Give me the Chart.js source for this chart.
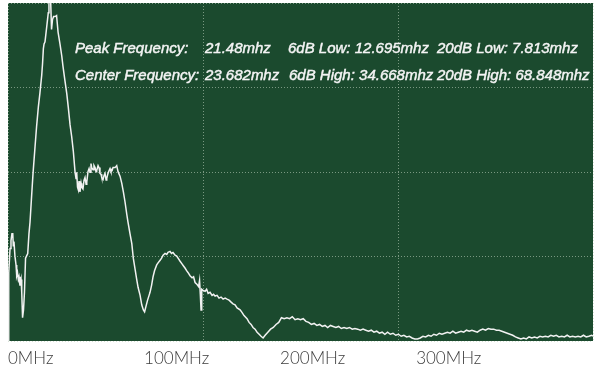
<!DOCTYPE html>
<html>
<head>
<meta charset="utf-8">
<script src="https://cdn.jsdelivr.net/npm/chart.js@4"></script>
<style>
    body { margin: 0; background: #ffffff; }
    #spectrum { display: block; }
</style>
</head>
<body>
<canvas id="spectrum" width="600" height="368"></canvas>
<script>
// Spectrum trace (frequency in MHz, level in % of full scale)
const lowBandFreq = [0, 0.4, 0.7, 1.5, 2.2, 2.9, 3.5, 3.9, 4.4, 5.1, 5.9, 6.4, 7.0, 7.6, 8.1, 8.8, 9.6, 10.1, 10.7, 11.4,
    12.1, 12.9, 13.6, 14.5, 15.4, 16.2, 17.4, 18.4, 19.9, 21.0, 22.3, 23.5, 24.8, 25.4, 26.0, 26.5, 27.2, 28.5, 29.6, 30.1,
    30.9, 31.4, 32.0, 32.7, 33.5, 34.6, 35.7, 36.8, 38.2, 39.5, 40.4, 41.9, 43.2, 44.3, 45.6, 46.8, 48.0, 49.3, 50.0, 50.5,
    51.1, 51.7, 52.2, 52.9, 53.7, 54.2, 55.1, 55.9, 56.6, 57.4, 57.9, 58.8, 59.6, 60.3, 61.0, 61.5, 62.5, 63.2, 64.0, 64.7,
    65.2, 66.2, 66.9, 67.6, 68.4, 68.9, 69.9, 70.6, 71.3, 72.1, 72.6, 73.5, 74.3, 75.0, 75.7, 76.5, 77.2, 78.7, 79.9, 80.9];
const lowBandLevel = [0, 8.6, 20.2, 27.4, 29.7, 31.7, 31.7, 28.2, 29.4, 25.1, 22.5, 19.3, 20.2, 18.2, 19.0, 16.4, 18.2, 14.4, 6.9, 9.2,
    14.4, 24.5, 25.1, 25.9, 31.7, 35.2, 43.2, 49.6, 57.6, 63.4, 69.2, 73.5, 78.7, 82.1, 86.5, 87.9, 88.5, 93.1, 97.1, 100.0,
    102, 100.0, 92.2, 95.1, 96.0, 96.0, 96.3, 91.4, 87.9, 84.4, 81.3, 76.9, 73.2, 69.2, 64.0, 60.5, 56.2, 49.9, 48.1, 49.9,
    45.5, 44.7, 47.3, 44.1, 46.7, 45.5, 45.0, 47.6, 48.4, 46.4, 47.0, 50.1, 51.0, 49.9, 52.5, 51.3, 50.7, 51.9, 51.3, 50.1,
    50.4, 51.9, 51.3, 49.6, 49.3, 48.4, 47.8, 49.0, 49.6, 47.6, 48.1, 49.6, 50.4, 51.0, 50.1, 50.4, 51.3, 51.3, 51.9, 50.1];

const midBandFreq = [82.4, 83.6, 84.8, 86.0, 87.3, 88.2, 89.7, 91.0, 92.1, 93.4, 94.6, 95.6, 97.1, 98.3, 99.5, 100.4, 101.5,
    102.6, 103.7, 104.4, 105.5, 106.6, 107.7, 109.3, 110.3, 111.8, 112.9, 114.0, 115.4, 116.7, 117.6, 119.1, 120.2, 121.3,
    122.8, 124.0, 125.0, 126.5, 127.9, 129.0, 130.1, 131.3, 132.4, 133.8, 135.3, 136.4, 137.5, 139.0, 140.1, 140.8, 141.4,
    141.9, 142.4, 143.4, 144.9, 146.0, 147.1, 148.5, 150.0, 151.1, 152.2, 153.7, 155.1, 156.6, 158.1, 159.6, 161.0, 162.5,
    164.0, 165.4, 166.9, 168.4, 170.6, 172.1, 173.5, 175.7, 177.2, 178.7, 180.1, 181.6, 183.1, 184.6, 186.0, 187.5];
const midBandLevel = [48.7, 46.7, 44.1, 41.2, 37.5, 35.2, 31.7, 28.8, 24.5, 21.3, 18.2, 15.9, 13.5, 10.7, 9.2, 8.6, 10.4,
    12.1, 13.5, 14.4, 16.4, 19.0, 20.8, 22.5, 23.1, 23.9, 24.5, 25.4, 25.9, 25.6, 26.2, 26.5, 25.9, 26.2,
    25.4, 25.1, 24.5, 23.6, 22.8, 22.2, 21.6, 20.8, 20.2, 19.3, 18.7, 19.0, 17.3, 16.7, 16.1, 17.9, 13.5,
    9.2, 15.3, 15.0, 14.7, 15.3, 14.1, 14.4, 13.5, 13.8, 13.3, 13.5, 12.7, 13.0, 12.4, 12.7, 12.4, 12.1,
    11.5, 11.0, 10.7, 9.8, 9.2, 8.4, 7.5, 6.6, 5.5, 4.9, 4.0, 3.5, 2.6, 2.0, 1.4, 0.9];

const tailFreq = [189, 191, 193, 195, 197, 199, 201, 203, 205, 207, 209, 211, 213, 215, 217, 219, 221, 223, 225, 227,
    229, 231, 233, 235, 237, 239, 241, 243, 245, 247, 249, 251, 253, 255, 257, 259, 261, 263, 265, 267,
    269, 271, 273, 275, 277, 279, 281, 283, 285, 287, 289, 291, 293, 295, 297, 299, 301, 303, 305, 307,
    309, 311, 313, 315, 317, 319, 321, 323, 325, 327, 329, 331, 333, 335, 337, 339, 341, 343, 345, 347,
    349, 351, 353, 355, 357, 359, 361, 363, 365, 367, 369, 371, 373, 375, 377, 379, 381, 383, 385, 387,
    389, 391, 393, 395, 397, 399, 401, 403, 405, 407, 409, 411, 413, 415, 417, 419, 421, 423, 425, 427,
    429, 430];
const tailLevel = [1.7, 2.6, 3.5, 4.0, 4.9, 5.5, 6.9, 6.6, 6.9, 6.6, 7.2, 6.3, 6.6, 6.3, 6.6, 5.8, 5.5, 4.9, 5.2, 4.6,
    4.9, 4.3, 4.6, 4.0, 4.6, 4.3, 4.0, 4.3, 3.7, 4.0, 3.7, 4.0, 3.5, 3.7, 3.5, 3.2, 3.5, 3.2, 2.9, 3.2,
    2.6, 2.9, 2.3, 2.6, 2.0, 2.6, 2.0, 2.3, 1.7, 2.0, 1.4, 1.7, 1.2, 1.4, 0.9, 0.6, 0.6, 0.9, 1.4, 1.2,
    1.7, 1.4, 2.0, 1.7, 2.3, 2.0, 2.3, 2.6, 2.3, 2.9, 2.3, 2.6, 2.9, 2.6, 3.2, 2.9, 3.2, 2.9, 2.6, 3.2,
    3.5, 3.2, 3.7, 3.5, 3.5, 3.2, 3.2, 2.9, 2.6, 2.3, 2.0, 1.7, 1.2, 0.9, 0.6, 0.9, 0.6, 1.2, 0.9, 1.2,
    0.9, 1.4, 1.2, 1.4, 1.2, 1.7, 1.4, 1.7, 1.2, 1.4, 1.2, 1.7, 1.2, 1.4, 1.2, 1.4, 1.2, 1.7, 1.2, 1.4,
    1.7, 1.4];

// Axis labels
const xTickValues = [0, 100, 200, 300];
const xTickLabels = ['0MHz', '100MHz', '200MHz', '300MHz'];

// Readout text shown over the trace
const infoRowPeak = ['Peak Frequency:', '21.48mhz', '6dB Low:', '12.695mhz', '20dB Low:', '7.813mhz'];
const infoRowCenter = ['Center Frequency:', '23.682mhz', '6dB High:', '34.668mhz', '20dB High:', '68.848mhz'];

const freqMHz = lowBandFreq.concat(midBandFreq, tailFreq);
const level = lowBandLevel.concat(midBandLevel, tailLevel);

const GRID_COLOR = 'rgba(185, 205, 185, 0.6)';
const GRID_DASH = [1, 2];

// Fill the plot area with the scope green
const plotBackground = {
    id: 'plotBackground',
    beforeDraw(chart) {
        const { ctx, chartArea: a } = chart;
        ctx.save();
        ctx.fillStyle = '#1b4a2e';
        ctx.fillRect(a.left, a.top, a.right - a.left, a.bottom - a.top);
        ctx.restore();
    }
};

// Draw the two readout lines (label / value pairs after the first two columns)
function drawRow(ctx, row, xs, y) {
    const parts = [row[0], row[1], row[2] + ' ' + row[3], row[4] + ' ' + row[5]];
    parts.forEach((t, i) => {
        ctx.strokeText(t, xs[i], y);
        ctx.fillText(t, xs[i], y);
    });
}

const readout = {
    id: 'readout',
    afterDraw(chart) {
        const ctx = chart.ctx;
        ctx.save();
        ctx.fillStyle = '#f4f4f4';
        ctx.strokeStyle = '#f4f4f4';
        ctx.lineWidth = 0.45;
        ctx.font = 'italic 15px "Liberation Sans", Arial, sans-serif';
        ctx.textBaseline = 'alphabetic';
        drawRow(ctx, infoRowPeak, [75, 205, 288, 437], 53);
        drawRow(ctx, infoRowCenter, [75, 205, 289, 437], 80);
        ctx.restore();
    }
};

new Chart(document.getElementById('spectrum'), {
    type: 'line',
    data: {
        datasets: [{
            data: freqMHz.map((f, i) => ({ x: f, y: level[i] })),
            borderColor: '#f2f2f2',
            borderWidth: 1.5,
            pointRadius: 0,
            tension: 0,
            fill: false
        }]
    },
    options: {
        responsive: false,
        animation: false,
        devicePixelRatio: 1,
        layout: { padding: { left: 8, right: 7, top: 3, bottom: 0 } },
        plugins: {
            legend: { display: false },
            tooltip: { enabled: false }
        },
        scales: {
            x: {
                type: 'linear',
                min: 0,
                max: 430,
                afterBuildTicks: axis => {
                    axis.ticks = xTickValues.map(v => ({ value: v }));
                },
                ticks: {
                    align: 'start',
                    padding: 1,
                    maxRotation: 0,
                    autoSkip: false,
                    color: '#3c3c3c',
                    font: { family: 'Lato', weight: 300, size: 17, lineHeight: 1 },
                    callback: (v, i) => xTickLabels[i]
                },
                grid: { display: false },
                border: { display: false }
            },
            // only here for the three vertical divisions of the screen
            xGrid: {
                type: 'linear',
                position: 'top',
                min: 0,
                max: 3,
                ticks: { display: false, stepSize: 1 },
                grid: { color: GRID_COLOR, drawTicks: false, borderDash: GRID_DASH },
                border: { display: false, dash: GRID_DASH }
            },
            y: {
                min: 0,
                max: 100,
                ticks: { display: false, stepSize: 25 },
                grid: { color: GRID_COLOR, drawTicks: false, borderDash: GRID_DASH },
                border: { display: false, dash: GRID_DASH }
            }
        }
    },
    plugins: [plotBackground, readout]
});
</script>
</body>
</html>
